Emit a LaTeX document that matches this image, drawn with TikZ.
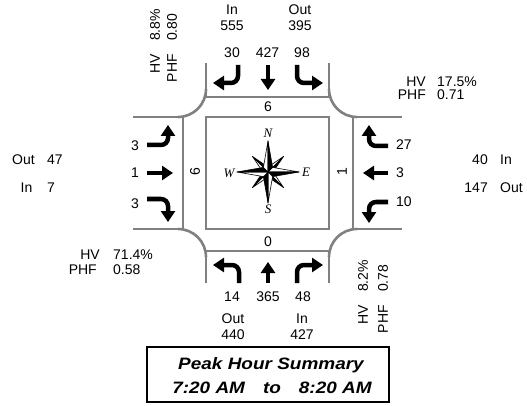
\documentclass[tikz,border=0pt]{standalone}
\usepackage{fontspec}
\setmainfont{Liberation Sans}
\newfontfamily\rosefont{Liberation Serif}
\newfontfamily\titlefont[FakeStretch=1.15]{Liberation Sans}
\usetikzlibrary{arrows.meta}

\begin{document}
\begin{tikzpicture}[x=1pt, y=-1pt,
    road/.style={draw=gray, line width=2.6pt},
    mv/.style={line width=4.5pt, rounded corners=7pt, -{Triangle[length=11pt,width=14pt]}},
    lbl/.style={inner sep=0pt, font=\fontsize{14}{16}\selectfont},
    rot/.style={lbl, rotate=90},
    rl/.style={inner sep=0pt, font=\fontsize{13}{15}\rosefont\itshape},
    ttl/.style={inner sep=0pt, anchor=base, font=\fontsize{16.5}{20}\titlefont\bfseries\itshape},
    pt/.style={draw=black, line width=0.6pt, line join=round}]
  \useasboundingbox (0,0) rectangle (527,406);

  % roads and corners
  \draw[road] (206,117) rectangle (329,229);
  \draw[road] (206,63) -- (206,97) -- (329,97) -- (329,63);
  \draw[road] (206,283) -- (206,251) -- (329,251) -- (329,283);
  \draw[road] (133,117) -- (183,117) -- (183,229) -- (133,229);
  \draw[road] (402,117) -- (353,117) -- (353,229) -- (402,229);
  \draw[road] (206,89) arc[start angle=0, end angle=90, radius=28];
  \draw[road] (329,89) arc[start angle=180, end angle=90, radius=28];
  \draw[road] (178,229) arc[start angle=270, end angle=360, radius=28];
  \draw[road] (357,229) arc[start angle=270, end angle=180, radius=28];

  % lane counts on the box
  \node[lbl] (bN) at (268,107) {6};
  \node[lbl] (bS) at (268,242) {0};
  \node[rot] (bW) at (195,172) {6};
  \node[rot] (bE) at (342,172) {1};

  % north approach
  \node[lbl, align=center] (nIn) at (232,18) {In\\555};
  \node[lbl, align=center] (nOut) at (300,18) {Out\\395};
  \node[lbl] (nL) at (232,53) {30};
  \node[lbl] (nT) at (267.5,53) {427};
  \node[lbl] (nR) at (302,53) {98};
  \draw[mv] (238,65) -- (238,83) -- (213,83);
  \draw[mv] (268,65) -- (268,90);
  \draw[mv] (297,65) -- (297,83) -- (323,83);
  \node[rot, anchor=east] (nHV) at (155,54) {HV};
  \node[rot, anchor=west] (nHVv) at (155,41) {8.8\%};
  \node[rot, anchor=east] (nPHF) at (172,54) {PHF};
  \node[rot, anchor=west] (nPHFv) at (172,41) {0.80};

  % south approach
  \node[lbl] (sL) at (232,297) {14};
  \node[lbl] (sT) at (268,297) {365};
  \node[lbl] (sR) at (303,297) {48};
  \node[lbl, align=center] (sOut) at (233,327) {Out\\440};
  \node[lbl, align=center] (sIn) at (302,327) {In\\427};
  \draw[mv] (239,283) -- (239,265) -- (213,265);
  \draw[mv] (268,283) -- (268,262);
  \draw[mv] (297,283) -- (297,265) -- (323,265);
  \node[rot, anchor=east] (sHV) at (363,305) {HV};
  \node[rot, anchor=west] (sHVv) at (363,292) {8.2\%};
  \node[rot, anchor=east] (sPHF) at (383,305) {PHF};
  \node[rot, anchor=west] (sPHFv) at (383,292) {0.78};

  % west approach
  \node[lbl] (wL) at (135,146) {3};
  \node[lbl] (wT) at (135,173) {1};
  \node[lbl] (wR) at (135,204) {3};
  \draw[mv] (147,145) -- (168,145) -- (168,125);
  \draw[mv] (147,173) -- (173,173);
  \draw[mv] (147,199) -- (168,199) -- (168,222);
  \node[lbl] (wOut) at (23.5,160) {Out};
  \node[lbl, anchor=west] (wOutv) at (47,160) {47};
  \node[lbl] (wIn) at (26.5,188) {In};
  \node[lbl, anchor=west] (wInv) at (47,188) {7};
  \node[lbl, anchor=east] (wHV) at (100,255) {HV};
  \node[lbl, anchor=west] (wHVv) at (113,255) {71.4\%};
  \node[lbl, anchor=east] (wPHF) at (97,270) {PHF};
  \node[lbl, anchor=west] (wPHFv) at (113,270) {0.58};

  % east approach
  \node[lbl, anchor=west] (eL) at (396,145) {27};
  \node[lbl, anchor=west] (eT) at (396,173) {3};
  \node[lbl, anchor=west] (eR) at (396,202) {10};
  \draw[mv] (388,146) -- (369,146) -- (369,125);
  \draw[mv] (388,173) -- (363,173);
  \draw[mv] (388,202) -- (369,202) -- (369,223);
  \node[lbl, anchor=east] (eInv) at (488,160) {40};
  \node[lbl, anchor=west] (eIn) at (500,160) {In};
  \node[lbl, anchor=east] (eOutv) at (488,188) {147};
  \node[lbl, anchor=west] (eOut) at (500,188) {Out};
  \node[lbl, anchor=east] (eHV) at (426,82) {HV};
  \node[lbl, anchor=west] (eHVv) at (437,82) {17.5\%};
  \node[lbl, anchor=east] (ePHF) at (426,95) {PHF};
  \node[lbl, anchor=west] (ePHFv) at (437,95) {0.71};

  % compass rose
  \coordinate (rose) at (268,172);
  \begin{scope}[shift={(rose)}]
    \foreach \a in {45,135,225,315} {
      \filldraw[pt, fill=white] (0,0) -- (\a-45:5) -- (\a:22) -- cycle;
      \filldraw[pt, fill=black] (0,0) -- (\a+45:5) -- (\a:22) -- cycle;
    }
    \foreach \a in {0,90,180,270} {
      \filldraw[pt, fill=white] (0,0) -- (\a-45:6.5) -- (\a:31) -- cycle;
      \filldraw[pt, fill=black] (0,0) -- (\a+45:6.5) -- (\a:31) -- cycle;
    }
  \end{scope}
  \node[rl] (rN) at (268,133) {N};
  \node[rl] (rE) at (306,172) {E};
  \node[rl] (rS) at (268,209) {S};
  \node[rl] (rW) at (229,173) {W};

  % summary box
  \draw[line width=2.5pt] (147,347) rectangle (389,402);
  \node[ttl] (t1) at (271,369) {Peak Hour Summary};
  \node[ttl] (t2) at (272,393) {7:20 AM\hspace{18pt}to\hspace{18pt}8:20 AM};
\end{tikzpicture}
\end{document}
